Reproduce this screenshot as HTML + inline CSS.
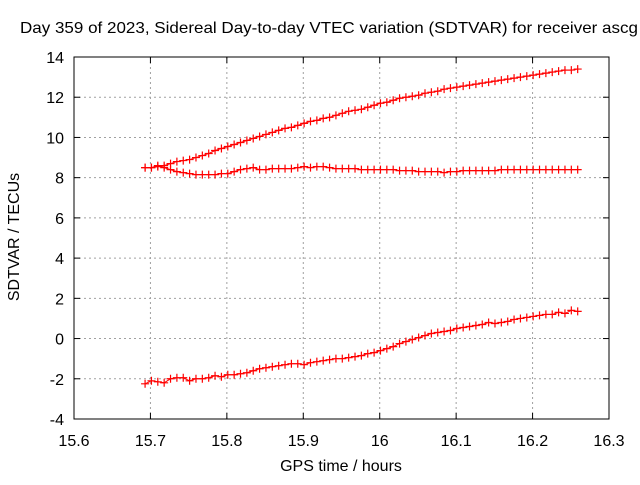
<!DOCTYPE html>
<html><head><meta charset="utf-8"><style>
body{margin:0;background:#fff}
svg text{font-family:"Liberation Sans",sans-serif;font-size:16px;fill:#000}
</style></head><body>
<svg id="chart" width="640" height="480">
<text x="20" y="33" textLength="618" lengthAdjust="spacingAndGlyphs">Day 359 of 2023, Sidereal Day-to-day VTEC variation (SDTVAR) for receiver ascg</text>
<text x="341" y="471" text-anchor="middle">GPS time / hours</text>
<text transform="translate(19,237) rotate(-90)" text-anchor="middle">SDTVAR / TECUs</text>
<g id="grid"></g><g id="series"></g>
<rect x="74" y="57" width="535" height="362" fill="none" stroke="#000"/>
</svg>
<script>
const xTicks=[15.6,15.7,15.8,15.9,16,16.1,16.2,16.3];
const xTickLabels=["15.6","15.7","15.8","15.9","16","16.1","16.2","16.3"];
const yTicks=[-4,-2,0,2,4,6,8,10,12,14];
const xStart=15.693, xStep=0.008324;
const seriesTop=[8.5,8.5,8.55,8.6,8.7,8.8,8.85,8.9,9.0,9.1,9.2,9.35,9.45,9.55,9.65,9.75,9.85,9.95,10.05,10.15,10.25,10.35,10.45,10.5,10.6,10.7,10.8,10.85,10.95,11.0,11.1,11.2,11.3,11.35,11.4,11.5,11.6,11.7,11.75,11.85,11.95,12.0,12.05,12.1,12.2,12.25,12.3,12.4,12.45,12.5,12.55,12.6,12.65,12.7,12.75,12.8,12.85,12.9,12.95,13.0,13.05,13.1,13.15,13.2,13.25,13.3,13.35,13.35,13.4];
const seriesMid=[8.5,8.5,8.6,8.5,8.4,8.3,8.25,8.2,8.15,8.15,8.15,8.15,8.2,8.2,8.3,8.4,8.45,8.5,8.4,8.4,8.45,8.45,8.45,8.45,8.5,8.55,8.5,8.55,8.55,8.5,8.45,8.45,8.45,8.45,8.4,8.4,8.4,8.4,8.4,8.4,8.35,8.35,8.35,8.3,8.3,8.3,8.3,8.25,8.3,8.3,8.35,8.35,8.35,8.35,8.35,8.35,8.4,8.4,8.4,8.4,8.4,8.4,8.4,8.4,8.4,8.4,8.4,8.4,8.4];
const seriesLow=[-2.25,-2.1,-2.15,-2.2,-2.0,-1.95,-1.95,-2.1,-2.0,-2.0,-1.95,-1.85,-1.9,-1.8,-1.8,-1.75,-1.7,-1.6,-1.5,-1.45,-1.4,-1.35,-1.3,-1.25,-1.25,-1.3,-1.2,-1.15,-1.1,-1.05,-1.0,-1.0,-0.95,-0.9,-0.85,-0.75,-0.7,-0.6,-0.5,-0.4,-0.25,-0.15,-0.05,0.05,0.15,0.25,0.3,0.35,0.4,0.5,0.55,0.6,0.65,0.7,0.8,0.75,0.8,0.85,0.95,1.0,1.05,1.1,1.15,1.2,1.2,1.3,1.25,1.4,1.35];
const L=74,R=609,T=57,B=419;
const sx=v=>L+(v-15.6)/0.7*(R-L);
const sy=v=>B-(v+4)/18*(B-T);
const NS="http://www.w3.org/2000/svg";
function mk(tag,attrs,parent){const e=document.createElementNS(NS,tag);for(const k in attrs)e.setAttribute(k,attrs[k]);parent.appendChild(e);return e;}
const g=document.getElementById('grid');
xTicks.forEach((v,i)=>{const x=sx(v);
 if(i>0&&i<xTicks.length-1){const l=mk('line',{x1:x,x2:x,y1:T,y2:B,stroke:'#a0a0a0','stroke-dasharray':'2,3'},g);
 
 }
 mk('line',{x1:x,x2:x,y1:B,y2:B-6,stroke:'#000'},g);mk('line',{x1:x,x2:x,y1:T,y2:T+6,stroke:'#000'},g);
 const t=mk('text',{x:x,y:B+27,'text-anchor':'middle'},g);t.textContent=xTickLabels[i];
 
 });
yTicks.forEach((v,i)=>{const y=sy(v);
 if(i>0&&i<yTicks.length-1){const l=mk('line',{x1:L,x2:R,y1:y,y2:y,stroke:'#a0a0a0','stroke-dasharray':'2,3'},g);
 
 }
 mk('line',{x1:L,x2:L+6,y1:y,y2:y,stroke:'#000'},g);mk('line',{x1:R,x2:R-6,y1:y,y2:y,stroke:'#000'},g);
 const t=mk('text',{x:L-10,y:y+6,'text-anchor':'end'},g);t.textContent=String(v);
 
 });
const s=document.getElementById('series');
[[seriesTop,'series-top'],[seriesMid,'series-middle'],[seriesLow,'series-bottom']].forEach(([arr,name])=>{
 const grp=mk('g',{},s);
 
 
 const pts=arr.map((v,i)=>[sx(xStart+i*xStep),sy(v)]);
 mk('polyline',{points:pts.map(p=>p.join(',')).join(' '),fill:'none',stroke:'#f00','stroke-width':1},grp);
 let d='';pts.forEach(p=>{d+=`M${p[0]-4},${p[1]}h8M${p[0]},${p[1]-4}v8`;});
 const m=mk('path',{d:d,stroke:'#f00','stroke-width':1.2},grp);
 
 
});
</script>
</body></html>
